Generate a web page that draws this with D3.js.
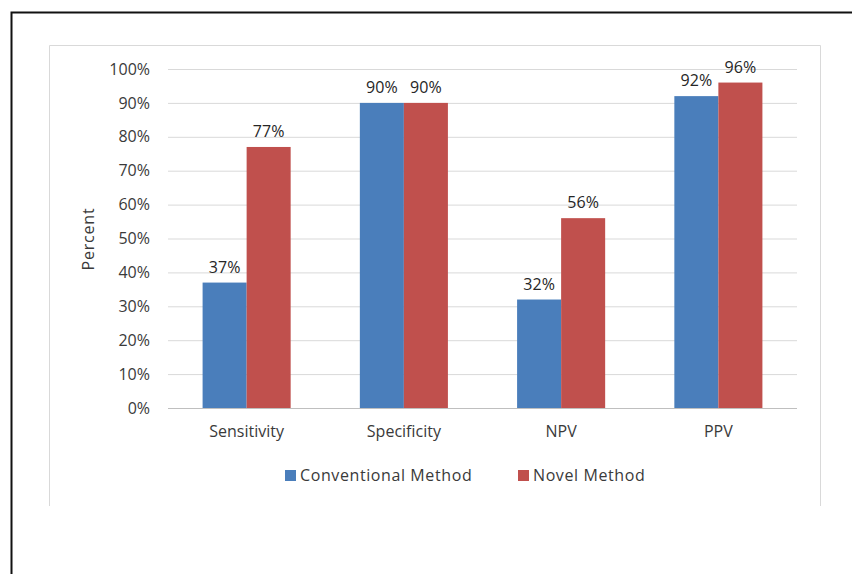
<!DOCTYPE html>
<html><head><meta charset="utf-8">
<script src="https://cdn.jsdelivr.net/npm/d3@7"></script>
<style>
html,body{margin:0;padding:0;background:#fff;}
svg{display:block;}
svg text{font-family:"Open Sans",sans-serif;}
</style></head>
<body><svg id="c" width="852" height="574"></svg>
<script>
const categories = ["Sensitivity","Specificity","NPV","PPV"];
const seriesNames = ["Conventional Method","Novel Method"];
const conventional = [37, 90, 32, 92];
const novel = [77, 90, 56, 96];
const yTicks = [0,10,20,30,40,50,60,70,80,90,100];
const colors = ["#4a7ebb","#c0504d"];

const svg = d3.select("#c");
svg.append("path").attr("d","M11.5,574 L11.5,12.5 L852,12.5").attr("fill","none").attr("stroke","#111").attr("stroke-width",2);
svg.append("path").attr("d","M49.5,506 L49.5,45.5 L820.5,45.5 L820.5,506").attr("fill","none").attr("stroke","#d9d9d9").attr("stroke-width",1);

const x0 = d3.scaleBand().domain(categories).range([168,797]).paddingInner(0.44).paddingOuter(0.22);
const x1 = d3.scaleBand().domain(seriesNames).range([0,x0.bandwidth()]);
const y = d3.scaleLinear().domain([0,100]).range([408,69]);

const g = svg.append("g");
const yAxis = d3.axisLeft(y).tickValues(yTicks).tickFormat(d=>d+"%").tickSize(-(797-168)).tickPadding(18);
const ya = g.append("g").attr("transform","translate(168,0)").call(yAxis);
ya.attr("font-family",null).attr("font-size",null);
ya.select(".domain").remove();
ya.selectAll(".tick line").attr("stroke","#d9d9d9");
ya.selectAll(".tick line").filter(d=>d===0).attr("stroke","#bfbfbf");
ya.selectAll(".tick text").attr("fill","#3a3a3a").attr("font-size","16px");

const data = categories.map((c,i)=>({cat:c, vals:[conventional[i], novel[i]]}));
const grp = g.selectAll(".cat").data(data).join("g").attr("transform",d=>`translate(${x0(d.cat)},0)`);
grp.selectAll("rect").data(d=>d.vals.map((v,j)=>({v,j}))).join("rect")
  .attr("x",d=>x1(seriesNames[d.j])).attr("width",x1.bandwidth())
  .attr("y",d=>y(d.v)).attr("height",d=>y(0)-y(d.v)).attr("fill",d=>colors[d.j]);
grp.selectAll("text.lab").data(d=>d.vals.map((v,j)=>({v,j}))).join("text")
  .attr("class","lab").attr("x",d=>x1(seriesNames[d.j])+x1.bandwidth()/2).attr("y",d=>y(d.v)-10)
  .attr("text-anchor","middle").attr("font-size","16px").attr("fill","#262626").text(d=>d.v+"%");

const xAxis = d3.axisBottom(x0).tickSize(0).tickPadding(18);
const xa = g.append("g").attr("transform","translate(0,408)").call(xAxis);
xa.attr("font-family",null).attr("font-size",null);
xa.select(".domain").remove();
xa.selectAll(".tick text").attr("fill","#3a3a3a").attr("font-size","16px");

svg.append("text").attr("transform","translate(94,239) rotate(-90)").attr("text-anchor","middle")
  .attr("font-size","16px").attr("letter-spacing","0.8px").attr("fill","#3a3a3a").text("Percent");

const leg = svg.append("g");
const legX = [285, 518];
seriesNames.forEach((s,i)=>{
  leg.append("rect").attr("x",legX[i]).attr("y",470).attr("width",11).attr("height",11).attr("fill",colors[i]);
  leg.append("text").attr("x",legX[i]+15).attr("y",481).attr("font-size","16px").attr("letter-spacing","0.6px").attr("fill","#3a3a3a").text(s);
});
</script></body></html>
